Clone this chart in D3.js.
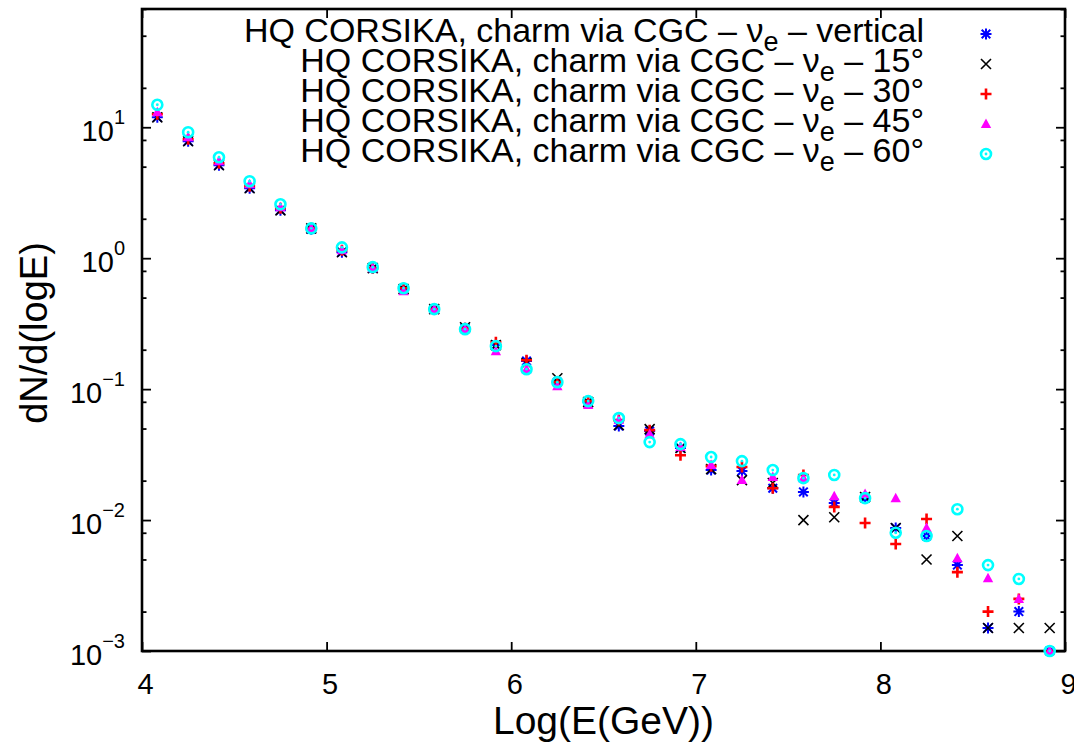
<!DOCTYPE html>
<html>
<head>
<meta charset="utf-8">
<script src="https://cdn.jsdelivr.net/npm/d3@7"></script>
<style>
  body { margin: 0; background: #fff; }
  text { font-family: "Liberation Sans", Arial, Helvetica, sans-serif; fill: #000; }
</style>
</head>
<body>
<svg id="chart" width="1074" height="753"></svg>
<script>
// bin centres in log10(E/GeV)
const logE = [4.083, 4.25, 4.417, 4.583, 4.75, 4.917, 5.083, 5.25, 5.417, 5.583,
              5.75, 5.917, 6.083, 6.25, 6.417, 6.583, 6.75, 6.917, 7.083, 7.25,
              7.417, 7.583, 7.75, 7.917, 8.083, 8.25, 8.417, 8.583, 8.75, 8.917];

// dN/d(logE)
const nueVertical = [11.9, 7.82, 5.13, 3.42, 2.32, 1.66, 1.11, 0.839, 0.58, 0.408,
                     0.292, 0.217, 0.164, 0.113, 0.0796, 0.0522, 0.0478, 0.0355, 0.0241, 0.0237,
                     0.0175, 0.0164, 0.0135, 0.0147, 0.0087, 0.00755, 0.00453, 0.0015, 0.002, 0.001];
const nue15 = [11.9, 7.82, 5.13, 3.42, 2.32, 1.69, 1.11, 0.839, 0.58, 0.408,
               0.297, 0.217, 0.158, 0.121, 0.0796, 0.0531, 0.0495, 0.0355, 0.0245, 0.0202,
               0.0192, 0.01, 0.0105, 0.015, 0.0087, 0.005, 0.00755, 0.0015, 0.0015, 0.0015];
const nue30 = [12.57, 8.10, 5.31, 3.55, 2.41, 1.69, 1.15, 0.839, 0.59, 0.408,
               0.292, 0.228, 0.166, 0.113, 0.081, 0.058, 0.0486, 0.0313, 0.0258, 0.0254,
               0.0175, 0.0221, 0.0126, 0.0095, 0.00656, 0.0102, 0.004, 0.002, 0.0025, 0.001];
const nue45 = [13.0, 8.39, 5.5, 3.67, 2.45, 1.69, 1.15, 0.839, 0.56, 0.408,
               0.287, 0.195, 0.142, 0.105, 0.0755, 0.058, 0.0453, 0.0361, 0.0263, 0.0202,
               0.0213, 0.0209, 0.0152, 0.0158, 0.0147, 0.0087, 0.0051, 0.0036, 0.0025, 0.001];
const nue60 = [14.85, 9.16, 5.9, 3.87, 2.58, 1.69, 1.21, 0.854, 0.59, 0.408,
               0.287, 0.213, 0.142, 0.113, 0.081, 0.0601, 0.0394, 0.038, 0.0303, 0.0282,
               0.0241, 0.0209, 0.0221, 0.0147, 0.008, 0.00755, 0.0121, 0.00453, 0.00355, 0.001];

const angleLabels = ['vertical', '15°', '30°', '45°', '60°'];
const xTicks = [4, 5, 6, 7, 8, 9];
const yTicks = [1e-3, 1e-2, 1e-1, 1, 10];
const yExponents = ['−3', '−2', '−1', '0', '1'];
const yMinorTicks = [2e-3, 5e-3, 8e-3, 2e-2, 5e-2, 8e-2, 0.2, 0.5, 0.8, 2, 5, 8, 20, 50, 80];

const series = [
  { label: angleLabels[0], values: nueVertical, color: '#0000ff', sym: 'star' },
  { label: angleLabels[1], values: nue15, color: '#000000', sym: 'cross' },
  { label: angleLabels[2], values: nue30, color: '#ff0000', sym: 'plus' },
  { label: angleLabels[3], values: nue45, color: '#ff00ff', sym: 'triangle' },
  { label: angleLabels[4], values: nue60, color: '#00ffff', sym: 'circle' }
];

const svg = d3.select('#chart');
const plotL = 142, plotR = 1065, plotT = 9, plotB = 651;

const x = d3.scaleLinear().domain([4, 9]).range([plotL, plotR]);
const y = d3.scaleLog().domain([1e-3, 80]).range([plotB, plotT]);

// ticks (gnuplot style, pointing inwards, mirrored)
function styleAxis(g) {
  g.select('.domain').remove();
  g.selectAll('.tick line').attr('stroke', '#000').attr('stroke-width', 1.8);
}
svg.append('g').attr('transform', `translate(0,${plotB})`)
  .call(d3.axisBottom(x).tickValues(xTicks).tickSize(-9).tickPadding(22).tickFormat(d3.format('d')))
  .call(styleAxis)
  .selectAll('text').attr('font-size', 29).attr('font-family', null).attr('dx', 3);
svg.append('g').attr('transform', `translate(0,${plotT})`)
  .call(d3.axisTop(x).tickValues(xTicks).tickSize(-9).tickFormat(''))
  .call(styleAxis);
svg.append('g').attr('transform', `translate(${plotL},0)`)
  .call(d3.axisLeft(y).tickValues(yTicks).tickSize(-9).tickFormat(''))
  .call(styleAxis);
svg.append('g').attr('transform', `translate(${plotL},0)`)
  .call(d3.axisLeft(y).tickValues(yMinorTicks).tickSize(-4.5).tickFormat(''))
  .call(styleAxis);
svg.append('g').attr('transform', `translate(${plotR},0)`)
  .call(d3.axisRight(y).tickValues(yTicks).tickSize(-9).tickFormat(''))
  .call(styleAxis);
svg.append('g').attr('transform', `translate(${plotR},0)`)
  .call(d3.axisRight(y).tickValues(yMinorTicks).tickSize(-4.5).tickFormat(''))
  .call(styleAxis);

// y tick labels 10^n
const yLab = svg.append('g').selectAll('text').data(yTicks).enter().append('text')
  .attr('x', 125).attr('y', d => y(d) + 14)
  .attr('text-anchor', 'end').attr('font-size', 29);
yLab.append('tspan').text('10');
yLab.append('tspan').attr('font-size', 20).attr('dy', -17).text((d, i) => yExponents[i]);

// frame
svg.append('rect').attr('x', plotL).attr('y', plotT)
  .attr('width', plotR - plotL).attr('height', plotB - plotT)
  .attr('fill', 'none').attr('stroke', '#000').attr('stroke-width', 2.6);

// axis titles
svg.append('text').attr('x', (plotL + plotR) / 2).attr('y', 734)
  .attr('text-anchor', 'middle').attr('font-size', 39).text('Log(E(GeV))');
svg.append('text').attr('transform', 'translate(47,333) rotate(-90)')
  .attr('text-anchor', 'middle').attr('font-size', 38).text('dN/d(logE)');

// point symbols
function drawSymbol(g, sym, color) {
  if (sym === 'star') {
    g.append('path').attr('d', 'M-5.5,0H5.5M0,-5.5V5.5M-4.3,-4.3L4.3,4.3M-4.3,4.3L4.3,-4.3')
      .attr('stroke', color).attr('stroke-width', 2).attr('fill', 'none');
  } else if (sym === 'cross') {
    g.append('path').attr('d', 'M-5,-5L5,5M-5,5L5,-5')
      .attr('stroke', color).attr('stroke-width', 1.6).attr('fill', 'none');
  } else if (sym === 'plus') {
    g.append('path').attr('d', 'M-5.5,0H5.5M0,-5.5V5.5')
      .attr('stroke', color).attr('stroke-width', 2.6).attr('fill', 'none');
  } else if (sym === 'triangle') {
    g.append('path').attr('d', 'M0,-5.5L5.2,4L-5.2,4Z').attr('fill', color);
  } else {
    g.append('circle').attr('r', 5).attr('fill', 'none')
      .attr('stroke', color).attr('stroke-width', 2.6);
    g.append('circle').attr('r', 1.4).attr('fill', color);
  }
}

const plot = svg.append('g');
series.forEach(s => {
  const pts = plot.append('g').selectAll('g')
    .data(s.values.map((v, i) => ({ e: logE[i], v: v })))
    .enter().append('g')
    .attr('transform', d => `translate(${x(d.e)},${y(d.v)})`);
  pts.each(function () { drawSymbol(d3.select(this), s.sym, s.color); });
});

// legend
const legend = svg.append('g');
series.forEach((s, i) => {
  const by = 42 + i * 30;
  const t = legend.append('text').attr('x', 924).attr('y', by)
    .attr('text-anchor', 'end').attr('font-size', 34);
  t.append('tspan').text('HQ CORSIKA, charm via CGC – ν');
  t.append('tspan').attr('font-size', 27).attr('dy', 9).text('e');
  t.append('tspan').attr('dy', -9).text(' – ' + s.label);
  const g = legend.append('g').attr('transform', `translate(986,${by - 8})`);
  drawSymbol(g, s.sym, s.color);
});
</script>
</body>
</html>
